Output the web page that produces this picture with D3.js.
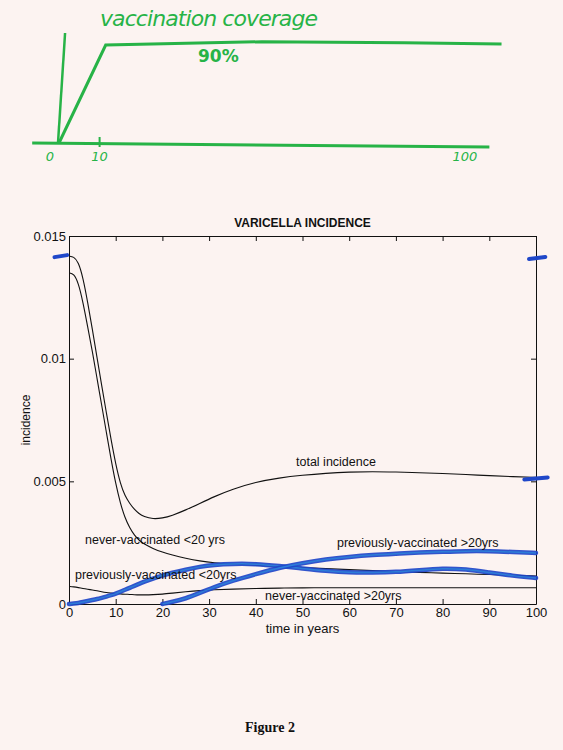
<!DOCTYPE html>
<html>
<head>
<meta charset="utf-8">
<script src="https://cdn.jsdelivr.net/npm/d3@7"></script>
<style>
body { margin:0; background:#fcf3f1; }
svg { display:block; }
.tick text { font-family:"Liberation Sans", Arial, sans-serif; font-size:13px; fill:#111; }
.lbl { font-family:"Liberation Sans", Arial, sans-serif; font-size:12.5px; fill:#111; }
</style>
</head>
<body>
<svg id="chart"></svg>
<script>
// time grid (years) shared by all series
var years = [0,1,2,3,4,5,6,7,8,9,10,11,12,13,14,15,16,18,20,22,25,28,31,35,40,45,50,55,60,65,70,75,80,85,90,95,100];

var totalIncidence = [0.01418,0.01416,0.01395,0.0133,0.0123,0.0112,0.01005,0.0089,0.0078,0.0067,0.0057,0.0049,0.0044,0.0041,0.00385,0.00368,0.00356,0.00346,0.0035,0.0036,0.00383,0.0041,0.00437,0.00468,0.00497,0.00514,0.00525,0.00533,0.00538,0.0054,0.00538,0.00535,0.00532,0.00528,0.00523,0.00519,0.00516];
var neverVacc20 = [0.0135,0.01347,0.0131,0.0123,0.0113,0.0103,0.0092,0.0081,0.007,0.0059,0.0049,0.0041,0.0035,0.0031,0.0028,0.0026,0.00245,0.00226,0.00211,0.002,0.00186,0.00175,0.00168,0.00163,0.00158,0.00153,0.00148,0.00144,0.0014,0.00136,0.00132,0.00129,0.00126,0.00123,0.0012,0.00117,0.00114];
var prevVacc20 = [0,0.00002,0.00004,0.00008,0.00012,0.00016,0.0002,0.00025,0.0003,0.00036,0.00042,0.0005,0.00058,0.00066,0.00074,0.00082,0.0009,0.00104,0.00116,0.00127,0.0014,0.00152,0.0016,0.00164,0.00164,0.00155,0.00145,0.00135,0.00128,0.00128,0.0013,0.00138,0.00146,0.00142,0.00128,0.00115,0.00106];
var prevVaccOver20 = [null,null,null,null,null,null,null,null,null,null,null,null,null,null,null,null,null,null,0,0.00008,0.00022,0.00045,0.00068,0.00095,0.00122,0.00148,0.00167,0.00182,0.00192,0.002,0.00205,0.0021,0.00213,0.00216,0.00216,0.00212,0.00208];
var neverVaccOver20 = [0.00072,0.0007,0.00067,0.00063,0.0006,0.00057,0.00054,0.0005,0.00047,0.00045,0.00043,0.00041,0.0004,0.00039,0.00038,0.00037,0.00037,0.00038,0.0004,0.00044,0.0005,0.00055,0.00058,0.00061,0.00063,0.00065,0.00066,0.00066,0.00066,0.00066,0.00066,0.00066,0.00066,0.00066,0.00066,0.00066,0.00066];

var xTicks = [0,10,20,30,40,50,60,70,80,90,100];
var yTicks = [0,0.005,0.01,0.015];

// hand drawn coverage sketch (years, percent)
var coverageYears = [0,11.5,50,85,109];
var coverageValues = [0,90,93,92,91];
var coverageTicks = [0,10,100];

// hand drawn blue marks [year from, year to, value]
var blueMarks = [[-3.1,-0.4,0.01418],[98.5,102,0.0141],[97.5,102.5,0.00512]];

var screen = {width:563, height:750};
var svg = d3.select("#chart")
    .attr("width", screen.width)
    .attr("height", screen.height);

// ---- green sketch ----
var green = "#27b347";
var gx = d3.scaleLinear().domain([0,100]).range([59,465]);
var gy = d3.scaleLinear().domain([0,90]).range([143,45]);

var sketch = svg.append("g").attr("id","sketch");

sketch.append("line")
    .attr("x1", gx(-6.6)).attr("y1", gy(0))
    .attr("x2", gx(106)).attr("y2", gy(0) + 4)
    .attr("stroke", green).attr("stroke-width", 3);

sketch.append("line")
    .attr("x1", gx(0) - 1).attr("y1", gy(0))
    .attr("x2", gx(1.5)).attr("y2", gy(101))
    .attr("stroke", green).attr("stroke-width", 2.5);

var coverageLine = d3.line()
    .x(function(d, i) { return gx(coverageYears[i]); })
    .y(function(d) { return gy(d); });

sketch.append("path")
    .datum(coverageValues)
    .attr("d", coverageLine)
    .attr("fill", "none")
    .attr("stroke", green)
    .attr("stroke-width", 3);

sketch.selectAll(".gtick")
    .data(coverageTicks)
    .enter()
    .append("text")
    .attr("x", function(d) { return gx(d) + (d == 0 ? -9 : 0); })
    .attr("y", 161)
    .attr("text-anchor", "middle")
    .attr("fill", green)
    .attr("font-family", "DejaVu Sans")
    .attr("font-style", "italic")
    .attr("font-size", 13)
    .text(function(d) { return d; });

sketch.append("line")
    .attr("x1", gx(10)).attr("y1", 137)
    .attr("x2", gx(10)).attr("y2", 147)
    .attr("stroke", green).attr("stroke-width", 2);

sketch.append("text")
    .attr("x", 100).attr("y", 26)
    .attr("fill", green)
    .attr("font-family", "DejaVu Sans")
    .attr("font-style", "italic")
    .attr("font-size", 22)
    .attr("textLength", 218)
    .text("vaccination coverage");

sketch.append("text")
    .attr("x", 198).attr("y", 62)
    .attr("fill", green)
    .attr("font-family", "DejaVu Sans")
    .attr("font-weight", "bold")
    .attr("font-size", 17)
    .text("90%");

// ---- incidence chart ----
var margins = {left:69, top:236, right:27, bottom:146};
var graph = {
    width: screen.width - margins.left - margins.right,
    height: screen.height - margins.top - margins.bottom
};

var xScale = d3.scaleLinear().domain([0,100]).range([margins.left, margins.left + graph.width]);
var yScale = d3.scaleLinear().domain([0,0.015]).range([margins.top + graph.height, margins.top]);

var plot = svg.append("g").attr("id","graph");

plot.append("g")
    .attr("transform", "translate(0," + yScale(0) + ")")
    .call(d3.axisBottom(xScale).tickValues(xTicks).tickSizeInner(-5).tickSizeOuter(0).tickPadding(4));
plot.append("g")
    .attr("transform", "translate(0," + yScale(0.015) + ")")
    .call(d3.axisTop(xScale).tickValues(xTicks).tickSizeInner(-5).tickSizeOuter(0).tickFormat(""));
plot.append("g")
    .attr("transform", "translate(" + xScale(0) + ",0)")
    .call(d3.axisLeft(yScale).tickValues(yTicks).tickSizeInner(-5).tickSizeOuter(0).tickPadding(3).tickFormat(d3.format("~g")));
plot.append("g")
    .attr("transform", "translate(" + xScale(100) + ",0)")
    .call(d3.axisRight(yScale).tickValues(yTicks).tickSizeInner(-5).tickSizeOuter(0).tickFormat(""));

plot.selectAll(".domain, .tick line").attr("stroke", "#111");

var makeLine = function(values) {
    return d3.line()
        .defined(function(d) { return d != null; })
        .x(function(d, i) { return xScale(years[i]); })
        .y(function(d) { return yScale(d); })
        .curve(d3.curveBasis)(values);
};

[totalIncidence, neverVacc20, prevVacc20, prevVaccOver20, neverVaccOver20].forEach(function(s) {
    plot.append("path")
        .attr("d", makeLine(s))
        .attr("fill", "none")
        .attr("stroke", "#111")
        .attr("stroke-width", 1.1);
});

// blue marker over the previously-vaccinated curves
[prevVacc20, prevVaccOver20].forEach(function(s) {
    plot.append("path")
        .attr("d", makeLine(s))
        .attr("fill", "none")
        .attr("stroke", "#1f47c9")
        .attr("stroke-width", 4.5)
        .attr("stroke-linecap", "round")
        .attr("opacity", 0.92);
    plot.append("path")
        .attr("d", makeLine(s))
        .attr("fill", "none")
        .attr("stroke", "#35a4ea")
        .attr("stroke-width", 1.5)
        .attr("opacity", 0.6);
});

plot.selectAll(".bmark")
    .data(blueMarks)
    .enter()
    .append("line")
    .attr("x1", function(d) { return xScale(d[0]); })
    .attr("x2", function(d) { return xScale(d[1]); })
    .attr("y1", function(d) { return yScale(d[2]) + 1; })
    .attr("y2", function(d) { return yScale(d[2]) - 1; })
    .attr("stroke", "#1f47c9")
    .attr("stroke-width", 4)
    .attr("stroke-linecap", "round");

// labels
var labels = [
    {text:"total incidence", x:296, y:466},
    {text:"never-vaccinated <20 yrs", x:85, y:544},
    {text:"previously-vaccinated <20yrs", x:75, y:579},
    {text:"previously-vaccinated >20yrs", x:337, y:547},
    {text:"never-vaccinated >20yrs", x:265, y:600}
];
plot.selectAll(".lbl")
    .data(labels)
    .enter()
    .append("text")
    .attr("class", "lbl")
    .attr("x", function(d) { return d.x; })
    .attr("y", function(d) { return d.y; })
    .text(function(d) { return d.text; });

plot.append("text")
    .attr("x", xScale(50)).attr("y", 227)
    .attr("text-anchor", "middle")
    .attr("font-family", "Liberation Sans, Arial, sans-serif")
    .attr("font-size", 12)
    .attr("font-weight", "bold")
    .attr("fill", "#111")
    .text("VARICELLA INCIDENCE");

plot.append("text")
    .attr("x", xScale(50)).attr("y", 633)
    .attr("text-anchor", "middle")
    .attr("font-family", "Liberation Sans, Arial, sans-serif")
    .attr("font-size", 13)
    .attr("fill", "#111")
    .text("time in years");

plot.append("text")
    .attr("transform", "translate(30," + yScale(0.0075) + ") rotate(-90)")
    .attr("text-anchor", "middle")
    .attr("font-family", "Liberation Sans, Arial, sans-serif")
    .attr("font-size", 12)
    .attr("fill", "#111")
    .text("incidence");

svg.append("text")
    .attr("x", 270).attr("y", 732)
    .attr("text-anchor", "middle")
    .attr("font-family", "Liberation Serif, Times New Roman, serif")
    .attr("font-size", 14)
    .attr("font-weight", "bold")
    .attr("fill", "#111")
    .text("Figure 2");
</script>
</body>
</html>
